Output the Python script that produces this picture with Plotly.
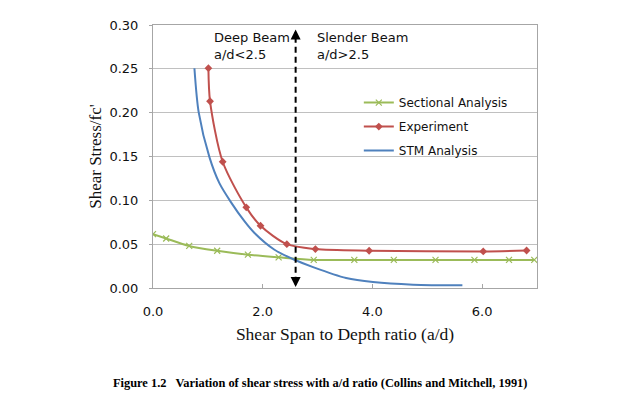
import plotly.graph_objects as go

# Data
sec_x = [0.0, 0.24, 0.66, 1.17, 1.73, 2.29, 2.93, 3.67, 4.39, 5.15, 5.86, 6.49, 6.95]
sec_y = [0.0615, 0.0565, 0.048, 0.0425, 0.038, 0.035, 0.032, 0.032, 0.032, 0.032, 0.032, 0.032, 0.032]

exp_x = [1.01, 1.04, 1.27, 1.70, 1.96, 2.44, 2.96, 3.94, 6.02, 6.81]
exp_y = [0.2507, 0.2130, 0.144, 0.092, 0.071, 0.050, 0.0444, 0.0425, 0.0417, 0.0428]

stm_x = [0.755, 0.834, 1.03, 1.21, 1.42, 1.67, 1.85, 2.215, 2.58, 2.93, 3.52, 4.01, 4.74, 5.64]
stm_y = [0.2507, 0.20, 0.149, 0.1196, 0.098, 0.0759, 0.0627, 0.0436, 0.0322, 0.0235, 0.0114, 0.0068, 0.0038, 0.003]

x_ticks = [0, 2, 4, 6]
y_ticks = [0.00, 0.05, 0.10, 0.15, 0.20, 0.25, 0.30]
divider_x = 2.6

GREEN = "#9BBB59"
RED = "#C0504D"
BLUE = "#4F81BD"
SANS = "DejaVu Sans"
SERIF = "Liberation Serif"
TXT = "#111111"

fig = go.Figure()
fig.add_trace(go.Scatter(x=sec_x, y=sec_y, name="Sectional Analysis", mode="lines+markers",
                         line=dict(color=GREEN, width=2, shape="spline", smoothing=0.8),
                         marker=dict(symbol="x-thin", size=6, line=dict(color=GREEN, width=1.2)),
                         legendgroup="a"))
fig.add_trace(go.Scatter(x=exp_x, y=exp_y, name="Experiment", mode="lines+markers",
                         line=dict(color=RED, width=2, shape="spline", smoothing=0.8),
                         marker=dict(symbol="diamond", size=6, color=RED),
                         legendgroup="b"))
fig.add_trace(go.Scatter(x=stm_x, y=stm_y, name="STM Analysis", mode="lines",
                         line=dict(color=BLUE, width=2, shape="spline", smoothing=0.8),
                         legendgroup="c"))

# dashed divider with arrowheads
fig.add_shape(type="line", x0=divider_x, x1=divider_x, y0=0.006, y1=0.289,
              xref="x", yref="y", line=dict(color="black", width=2, dash="6px,4px"))
for y_tip, y_tail in [(0.295, 0.285), (0.001, 0.011)]:
    fig.add_annotation(x=divider_x, y=y_tip, ax=divider_x, ay=y_tail, xref="x", yref="y",
                       axref="x", ayref="y", showarrow=True, arrowhead=2, arrowsize=1,
                       arrowwidth=2, arrowcolor="black", text="")

fig.add_annotation(x=1.08, y=0.2755, xref="x", yref="y", xanchor="left", yanchor="middle",
                   text="Deep Beam<br>a/d&lt;2.5", showarrow=False, align="left",
                   font=dict(family=SANS, size=13, color=TXT))
fig.add_annotation(x=2.945, y=0.2755, xref="x", yref="y", xanchor="left", yanchor="middle",
                   text="Slender Beam<br>a/d&gt;2.5", showarrow=False, align="left",
                   font=dict(family=SANS, size=13, color=TXT))

fig.add_annotation(x=0.435, y=-0.36, xref="paper", yref="paper", xanchor="center", yanchor="middle",
                   text="<b>Figure 1.2   Variation of shear stress with a/d ratio (Collins and Mitchell, 1991)</b>",
                   showarrow=False, font=dict(family=SERIF, size=12.4, color="black"))

# page body has an 8px margin, so the figure is sized/offset to compensate
fig.update_layout(
    width=627, height=390,
    margin=dict(l=145, r=98, t=17, b=110, autoexpand=False),
    paper_bgcolor="white", plot_bgcolor="white",
    showlegend=True,
    legend=dict(x=0.536, y=0.76, xanchor="left", yanchor="top", bgcolor="rgba(0,0,0,0)",
                font=dict(family=SANS, size=12, color=TXT), tracegroupgap=5,
                traceorder="grouped"),
    xaxis=dict(range=[0, 7], tickvals=x_ticks, tickformat=".1f", showgrid=False,
               showline=True, linecolor="#A6A6A6", linewidth=1, mirror=True,
               ticks="inside", ticklen=4, tickcolor="#A6A6A6", zeroline=False,
               ticklabelstandoff=11,
               tickfont=dict(family=SANS, size=13, color=TXT),
               title=dict(text="Shear Span to Depth ratio (a/d)", standoff=10,
                          font=dict(family=SERIF, size=17.5, color=TXT))),
    yaxis=dict(range=[0, 0.30], tickvals=y_ticks, tickformat=".2f", showgrid=True,
               gridcolor="#C0C0C0", gridwidth=1,
               showline=True, linecolor="#A6A6A6", linewidth=1, mirror=True,
               ticks="outside", ticklen=3, tickcolor="#A6A6A6", zeroline=False,
               ticklabelstandoff=8,
               tickfont=dict(family=SANS, size=13, color=TXT),
               title=dict(text="Shear Stress/fc'", standoff=3,
                          font=dict(family=SERIF, size=17, color=TXT))),
)

fig.write_html("out.html")
